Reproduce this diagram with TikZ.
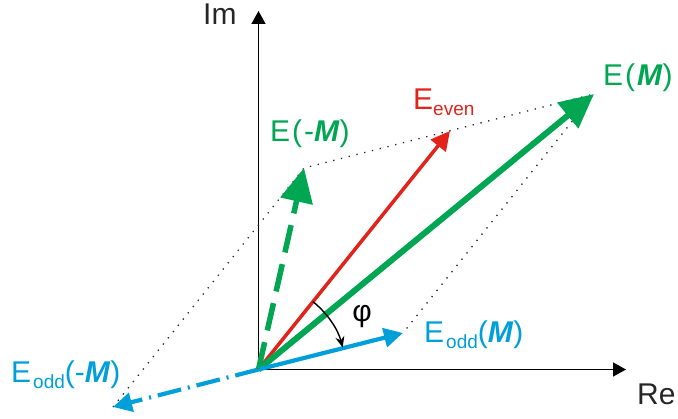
\documentclass[tikz,border=0pt]{standalone}
\usepackage{fontspec}
\setmainfont{Liberation Sans}
\usetikzlibrary{arrows.meta,calc}
\definecolor{vgreen}{RGB}{0,166,81}
\definecolor{vred}{RGB}{226,35,26}
\definecolor{vblue}{RGB}{0,159,218}
\newcommand{\bigtxt}{\fontsize{30}{32}\selectfont}
\newcommand{\subtxt}[1]{\raisebox{-6pt}{\fontsize{19}{20}\selectfont #1}}
\newcommand{\Mbi}{\textbf{\textit{M}}}
\tikzset{
  axisline/.style={line width=1.4pt, black, -{Triangle[length=13pt,width=14pt]}},
  dotline/.style={line width=1.3pt, black!85, dash pattern=on 1.3pt off 6.7pt},
  lbl/.style={inner sep=0pt, anchor=base west, font=\bigtxt},
  bigtip/.style={-{Triangle[length=34pt,width=32pt]}},
  smalltip/.style={-{Triangle[length=19pt,width=19pt]}},
}
\begin{document}
\begin{tikzpicture}[x=1pt,y=1pt]
\useasboundingbox (0,-419) rectangle (678,0);
\coordinate (O) at (258.5,-369.5);
\coordinate (EM) at (594,-94);
\coordinate (EmM) at (304,-168);
\coordinate (Eev) at (450,-131);
\coordinate (EoM) at (403,-333);
\coordinate (EomM) at (113,-407);
\coordinate (ImTip) at (258.5,-11);
\coordinate (ReTip) at (626,-369.5);
% axes
\draw[axisline] (O) -- (ImTip);
\draw[axisline] (O) -- (ReTip);
\node[lbl, text=black!85] (Im) at (203,-25) {Im};
\node[lbl, text=black!85] (Re) at (637,-405) {Re};
% dotted parallelogram
\draw[dotline] (EomM) -- (EmM) -- (EM) -- (EoM);
% vectors
\draw[vblue, line width=4.2pt, dash pattern=on 24pt off 7pt on 2pt off 7pt, smalltip] (O) -- (EomM);
\draw[vgreen, line width=5.5pt, dash pattern=on 28pt off 12pt, bigtip] (O) -- (EmM);
\draw[vred, line width=3.5pt, smalltip] (O) -- (Eev);
\draw[vgreen, line width=6pt, bigtip] (O) -- (EM);
\draw[vblue, line width=4.2pt, smalltip] (O) -- (EoM);
% angle
\draw[black, line width=1.4pt, -{Stealth[length=11pt,width=9pt]}] ($(O)+(51.4:87)$) arc[start angle=51.4, end angle=14.6, radius=87];
\node[font=\fontsize{30}{32}\selectfont, inner sep=0pt] (phi) at (362,-317) {φ};
% labels
\node[lbl, text=vgreen] (lEM) at (603,-86) {E\kern2pt(\kern2pt\Mbi)};
\node[lbl, text=vgreen] (lEmM) at (270,-142) {E\kern2pt(\kern2pt-\Mbi)};
\node[lbl, text=vred] (lEev) at (413,-110) {E\subtxt{even}};
\node[lbl, text=vblue] (lEoM) at (424,-343) {E\kern2pt\subtxt{odd}(\Mbi)};
\node[lbl, text=vblue] (lEomM) at (11,-383) {E\kern2pt\subtxt{odd}(-\Mbi)};
\end{tikzpicture}
\end{document}
